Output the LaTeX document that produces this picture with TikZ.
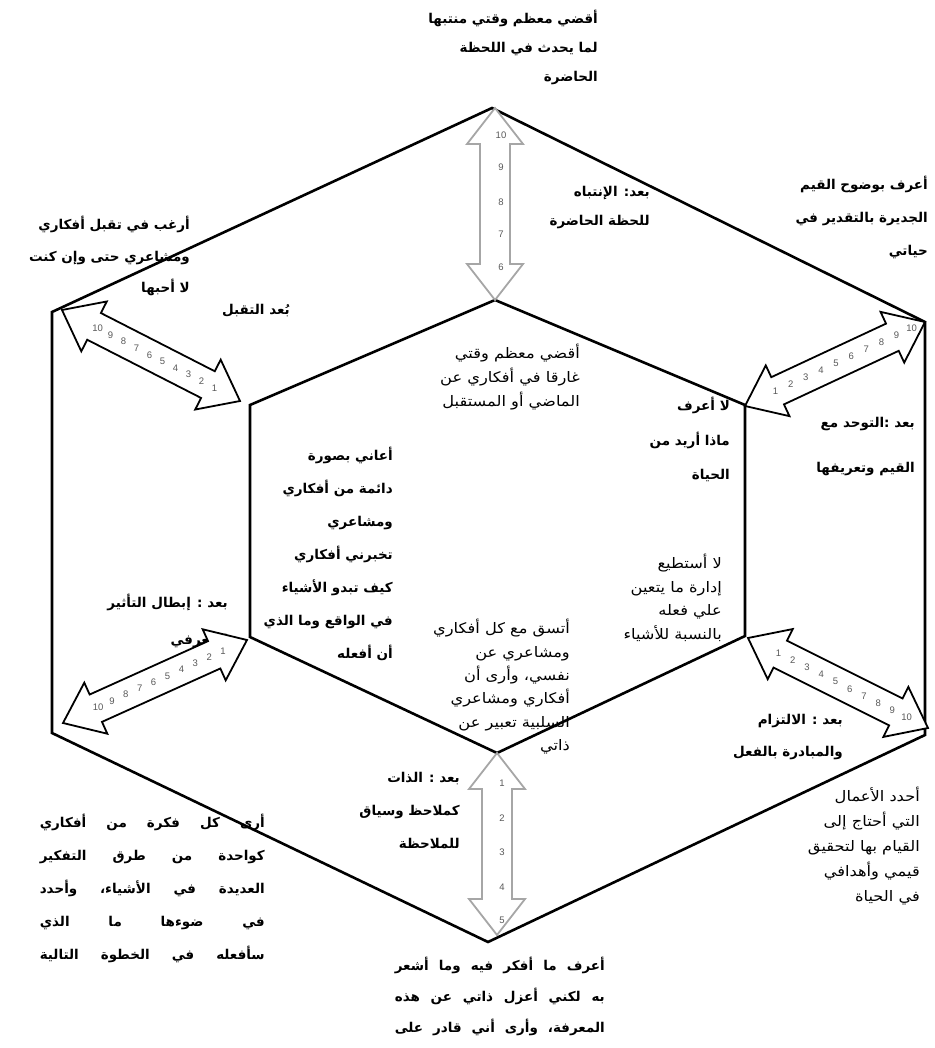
\documentclass[tikz,border=0pt]{standalone}
\usepackage{fontspec}
\usetikzlibrary{calc}
\TeXXeTstate=1
\newfontfamily\arfont[Script=Arabic]{DejaVu Sans}
\newfontfamily\arwide[Script=Arabic, FakeStretch=1.12]{DejaVu Sans}
\newfontfamily\numfont{Liberation Sans}
\newcommand\AR[1]{\beginR #1\endR}
\newcommand\ahl{36pt}
\newcommand\ahw{28pt}
\newcommand\asw{15pt}
\newcommand\blockarrow[3][]{%
  \draw[#1] (#2)
   -- ($(#2)!\ahl!(#3)!\ahw!90:(#3)$)
   -- ($(#2)!\ahl!(#3)!\asw!90:(#3)$)
   -- ($(#3)!\ahl!(#2)!\asw!-90:(#2)$)
   -- ($(#3)!\ahl!(#2)!\ahw!-90:(#2)$)
   -- (#3)
   -- ($(#3)!\ahl!(#2)!\ahw!90:(#2)$)
   -- ($(#3)!\ahl!(#2)!\asw!90:(#2)$)
   -- ($(#2)!\ahl!(#3)!\asw!-90:(#3)$)
   -- ($(#2)!\ahl!(#3)!\ahw!-90:(#3)$)
   -- cycle;}
\tikzset{
  hexline/.style={line width=2.6pt, line join=miter},
  barrow/.style={draw=black, fill=white, line width=1.8pt, line join=miter},
  garrow/.style={draw=black!35, fill=white, line width=1.8pt, line join=miter},
  num/.style={font=\numfont\fontsize{9.5}{10}\selectfont, text=black!65, inner sep=0pt},
  tb/.style={anchor=north east, align=right, inner sep=0pt, font={\arfont\bfseries\fontsize{13.5}{#1}\selectfont}},
  tr/.style={anchor=north east, align=right, inner sep=0pt, font={\arwide\fontsize{14.5}{#1}\selectfont}}
}
\begin{document}
\begin{tikzpicture}[x=1pt,y=-1pt]
\useasboundingbox (0,0) rectangle (934,1048);
% outer hexagon
\coordinate (oT) at (492,108);
\coordinate (oUR) at (925,322);
\coordinate (oLR) at (925,735);
\coordinate (oB) at (488,942);
\coordinate (oLL) at (52,733);
\coordinate (oUL) at (52,312);
% inner hexagon
\coordinate (iT) at (495,300);
\coordinate (iUR) at (745,405);
\coordinate (iLR) at (745,636);
\coordinate (iB) at (497,753);
\coordinate (iLL) at (250,637);
\coordinate (iUL) at (250,405);
\draw[hexline] (oT) -- (oUR) -- (oLR) -- (oB) -- (oLL) -- (oUL) -- cycle;
\draw[hexline] (iT) -- (iUR) -- (iLR) -- (iB) -- (iLL) -- (iUL) -- cycle;

% texts
\node[tb=29] (tA) at (598,10) {\AR{أقضي معظم وقتي منتبها}\\ \AR{لما يحدث في اللحظة}\\ \AR{الحاضرة}};
\node[tb=29] (tB) at (650,186) {\AR{بعد: الإنتباه}\\ \AR{للحظة الحاضرة}};
\node[tb=31.5] (tC) at (190,216) {\AR{أرغب في تقبل أفكاري}\\ \AR{ومشاعري حتى وإن كنت}\\ \AR{لا أحبها}};
\node[tb=20] (tD) at (290,304) {\AR{بُعد التقبل}};
\node[tb=33] (tE) at (928,176) {\AR{أعرف بوضوح القيم}\\ \AR{الجديرة بالتقدير في}\\ \AR{حياتي}};
\node[tr=24] (tF) at (580,344) {\AR{أقضي معظم وقتي}\\ \AR{غارقا في أفكاري عن}\\ \AR{الماضي أو المستقبل}};
\node[tb=34.5] (tG) at (730,397) {\AR{لا أعرف}\\ \AR{ماذا أريد من}\\ \AR{الحياة}};
\node[tb=45] (tH) at (915,417) {\AR{بعد :التوحد مع}\\ \AR{القيم وتعريفها}};
\node[tb=33] (tI) at (393,447) {\AR{أعاني بصورة}\\ \AR{دائمة من أفكاري}\\ \AR{ومشاعري}\\ \AR{تخبرني أفكاري}\\ \AR{كيف تبدو الأشياء}\\ \AR{في الواقع وما الذي}\\ \AR{أن أفعله}};
\node[tr=23.5] (tJ) at (722,554) {\AR{لا أستطيع}\\ \AR{إدارة ما يتعين}\\ \AR{علي فعله}\\ \AR{بالنسبة للأشياء}};
\node[tb=37] (tK) at (228,594) {\AR{بعد : إبطال التأثير}\\ \AR{المعرفي}};
\node[tr=23.4] (tL) at (570,619) {\AR{أتسق مع كل أفكاري}\\ \AR{ومشاعري عن}\\ \AR{نفسي، وأرى أن}\\ \AR{أفكاري ومشاعري}\\ \AR{السلبية تعبير عن}\\ \AR{ذاتي}};
\node[tb=33] (tM) at (460,772) {\AR{بعد : الذات}\\ \AR{كملاحظ وسياق}\\ \AR{للملاحظة}};
\node[tb=32] (tN) at (843,714) {\AR{بعد : الالتزام}\\ \AR{والمبادرة بالفعل}};
\node[tr=25] (tO) at (920,787) {\AR{أحدد الأعمال}\\ \AR{التي أحتاج إلى}\\ \AR{القيام بها لتحقيق}\\ \AR{قيمي وأهدافي}\\ \AR{في الحياة}};
\node[tb=33] (tP) at (265,814) {\hbox to 225pt{\beginR أرى كل فكرة من أفكاري\endR}\\ \hbox to 225pt{\beginR كواحدة من طرق التفكير\endR}\\ \hbox to 225pt{\beginR العديدة في الأشياء، وأحدد\endR}\\ \hbox to 225pt{\beginR في ضوءها ما الذي\endR}\\ \hbox to 225pt{\beginR سأفعله في الخطوة التالية\endR}};
\node[tb=31] (tQ) at (605,957) {\hbox to 210pt{\beginR أعرف ما أفكر فيه وما أشعر\endR}\\ \hbox to 210pt{\beginR به لكني أعزل ذاتي عن هذه\endR}\\ \hbox to 210pt{\beginR المعرفة، وأرى أني قادر على\endR}};

% arrow end points
\coordinate (aTo) at (495,108);
\coordinate (aTi) at (495,300);
\coordinate (aBi) at (497,753);
\coordinate (aBo) at (497,935);
\coordinate (aULo) at (62,310);
\coordinate (aULi) at (240,401);
\coordinate (aURi) at (745,406);
\coordinate (aURo) at (925,322);
\coordinate (aLLi) at (247,640);
\coordinate (aLLo) at (63,723);
\coordinate (aLRi) at (748,638);
\coordinate (aLRo) at (928,728);

\blockarrow[garrow]{aTo}{aTi}
\blockarrow[garrow]{aBi}{aBo}
\blockarrow[barrow]{aULo}{aULi}
\blockarrow[barrow]{aURi}{aURo}
\blockarrow[barrow]{aLLi}{aLLo}
\blockarrow[barrow]{aLRi}{aLRo}

% numbers
\foreach \n/\f in {10/0.14,9/0.31,8/0.49,7/0.66,6/0.83}
  \node[num, xshift=6pt] (nT\n) at ($(aTo)!\f!(aTi)$) {\n};
\foreach \n/\f in {1/0.165,2/0.357,3/0.544,4/0.736,5/0.918}
  \node[num, xshift=5pt] (nB\n) at ($(aBi)!\f!(aBo)$) {\n};
\foreach \n [count=\i] in {10,9,8,7,6,5,4,3,2,1}
  \node[num] (nUL\n) at ($(aULo)!{0.2+(\i-1)*0.073}!(aULi)$) {\n};
\foreach \n [count=\i] in {1,2,3,4,5,6,7,8,9,10}
  \node[num] (nUR\n) at ($(aURi)!{0.17+(\i-1)*0.084}!(aURo)$) {\n};
\foreach \n [count=\i] in {1,2,3,4,5,6,7,8,9,10}
  \node[num] (nLL\n) at ($(aLLi)!{0.13+(\i-1)*0.0755}!(aLLo)$) {\n};
\foreach \n [count=\i] in {1,2,3,4,5,6,7,8,9,10}
  \node[num] (nLR\n) at ($(aLRi)!{0.17+(\i-1)*0.079}!(aLRo)$) {\n};
\end{tikzpicture}
\end{document}
